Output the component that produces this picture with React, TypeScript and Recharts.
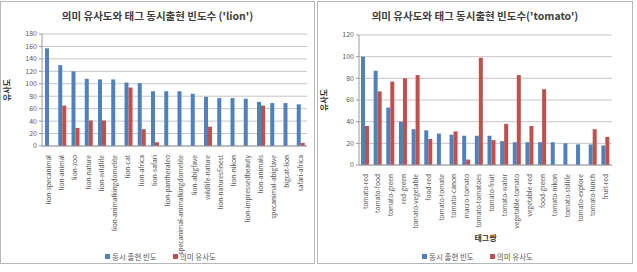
import { BarChart, Bar, XAxis, YAxis, CartesianGrid, Label } from "recharts";

// tag pairs for 'lion'
const lionPairs = [
  "lion-specanimal", "lion-animal", "lion-zoo", "lion-nature", "lion-wildlife",
  "lion-animalkingdomelite", "lion-cat", "lion-africa", "lion-safari", "lion-pantheraleo",
  "specanimal-animalkingdomelite", "lion-abigfave", "wildlife-nature", "lion-naturesfinest", "lion-nikon",
  "lion-impressedbeauty", "lion-animals", "specanimal-abigfave", "bigcat-lion", "safari-africa",
];
const lionCooccur = [157, 130, 120, 108, 107, 107, 102, 101, 88, 88, 88, 84, 79, 77, 77, 76, 71, 69, 69, 67];
const lionSimilarity = [0, 65, 29, 41, 41, 0, 94, 27, 6, 0, 0, 0, 31, 0, 0, 0, 65, 0, 0, 5];
const lionTicks = [0, 20, 40, 60, 80, 100, 120, 140, 160, 180];

// tag pairs for 'tomato'
const tomatoPairs = [
  "tomato-red", "tomato-food", "tomato-green", "red-green", "tomato-vegetable",
  "food-red", "tomato-tomate", "tomato-canon", "macro-tomato", "tomato-tomatoes",
  "tomato-fruit", "tomato-water", "vegetable-tomato", "vegetable-red", "food-green",
  "tomato-nikon", "tomato-stillife", "tomato-explore", "tomato-lunch", "fruit-red",
];
const tomatoCooccur = [100, 87, 53, 40, 33, 32, 29, 28, 27, 27, 27, 22, 21, 21, 21, 21, 20, 19, 19, 18];
const tomatoSimilarity = [36, 68, 77, 80, 83, 24, 0, 31, 5, 99, 23, 38, 83, 36, 70, 0, 0, 0, 33, 26];
const tomatoTicks = [0, 20, 40, 60, 80, 100, 120];

const BLUE = "#4F81BD";
const RED = "#C0504D";
const FONT = "'Noto Sans CJK KR', 'Noto Sans', sans-serif";

const toRows = (names: string[], a: number[], b: number[]) =>
  names.map((name, i) => ({ name, cooccur: a[i], similarity: b[i] }));

function RotatedTick(props: any) {
  const { x, y, payload } = props;
  const ty = y + 1;
  return (
    <text
      x={x}
      y={ty}
      dy="0.35em"
      transform={`rotate(-90 ${x} ${ty})`}
      textAnchor="end"
      fontSize={6.6}
      fill="#595959"
      fontFamily={FONT}
    >
      {payload.value}
    </text>
  );
}

function LegendRow() {
  const item = (color: string, text: string) => (
    <span style={{ display: "inline-flex", alignItems: "center", marginRight: 16 }}>
      <span style={{ width: 5, height: 5, background: color, display: "inline-block", marginRight: 2 }} />
      {text}
    </span>
  );
  return (
    <div style={{ fontSize: 7.5, color: "#595959", fontFamily: FONT, whiteSpace: "nowrap" }}>
      {item(BLUE, "동시 출현 빈도")}
      {item(RED, "의미 유사도")}
    </div>
  );
}

interface PanelProps {
  left: number;
  width: number;
  title: string;
  rows: any[];
  max: number;
  ticks: number[];
  margin: { top: number; right: number; left: number; bottom: number };
  xHeight: number;
  xTitle?: string;
  legendX: number;
}

function Panel({ left, width, title, rows, max, ticks, margin, xHeight, xTitle, legendX }: PanelProps) {
  const height = 263;
  return (
    <div
      style={{
        position: "absolute",
        left,
        top: 1,
        width,
        height,
        border: "1px solid #b4b8b8",
        boxSizing: "border-box",
        background: "#fff",
      }}
    >
      <div
        style={{
          position: "absolute",
          top: 6,
          left: 0,
          width: "100%",
          textAlign: "center",
          fontSize: 10.5,
          fontWeight: "bold",
          color: "#404040",
          fontFamily: FONT,
        }}
      >
        {title}
      </div>
      <BarChart
        width={width - 2}
        height={height - 2}
        data={rows}
        margin={margin}
        barGap={0}
        barSize={4}
        style={{ position: "absolute", left: 0, top: 0 }}
      >
        <CartesianGrid vertical={false} stroke="#c6c6c6" />
        <XAxis
          dataKey="name"
          interval={0}
          height={xHeight}
          tick={<RotatedTick />}
          tickLine={false}
          axisLine={{ stroke: "#9a9a9a" }}
        >
          {xTitle && (
            <Label
              value={xTitle}
              position="insideBottom"
              offset={4}
              style={{ fontSize: 8, fontWeight: "bold", fill: "#333333", fontFamily: FONT }}
            />
          )}
        </XAxis>
        <YAxis
          domain={[0, max]}
          ticks={ticks}
          interval={0}
          width={41}
          tickSize={3}
          tick={{ fontSize: 7, fill: "#595959", fontFamily: FONT }}
          axisLine={{ stroke: "#9a9a9a" }}
          tickLine={{ stroke: "#9a9a9a" }}
        >
          <Label
            value="유사도"
            angle={-90}
            position="insideLeft"
            offset={6}
            style={{ fontSize: 8, fontWeight: "bold", fill: "#333333", fontFamily: FONT, textAnchor: "middle" }}
          />
        </YAxis>
        <Bar dataKey="cooccur" name="동시 출현 빈도" fill={BLUE} isAnimationActive={false} />
        <Bar dataKey="similarity" name="의미 유사도" fill={RED} isAnimationActive={false} />
      </BarChart>
      <div style={{ position: "absolute", top: 248, left: legendX }}>
        <LegendRow />
      </div>
    </div>
  );
}

export default function App() {
  return (
    <div
      style={{
        position: "fixed",
        left: 0,
        top: 0,
        width: 637,
        height: 272,
        background: "#fff",
        overflow: "hidden",
      }}
    >
      <Panel
        left={0}
        width={315}
        title="의미 유사도와 태그 동시출현 빈도수 ('lion')"
        rows={toRows(lionPairs, lionCooccur, lionSimilarity)}
        max={180}
        ticks={lionTicks}
        margin={{ top: 32, right: 7, left: 0, bottom: 20 }}
        xHeight={97}
        legendX={104}
      />
      <Panel
        left={317}
        width={316}
        title="의미 유사도와 태그 동시출현 빈도수('tomato')"
        rows={toRows(tomatoPairs, tomatoCooccur, tomatoSimilarity)}
        max={120}
        ticks={tomatoTicks}
        margin={{ top: 33, right: 20, left: 0, bottom: 18 }}
        xHeight={80}
        xTitle="태그쌍"
        legendX={104}
      />
    </div>
  );
}
